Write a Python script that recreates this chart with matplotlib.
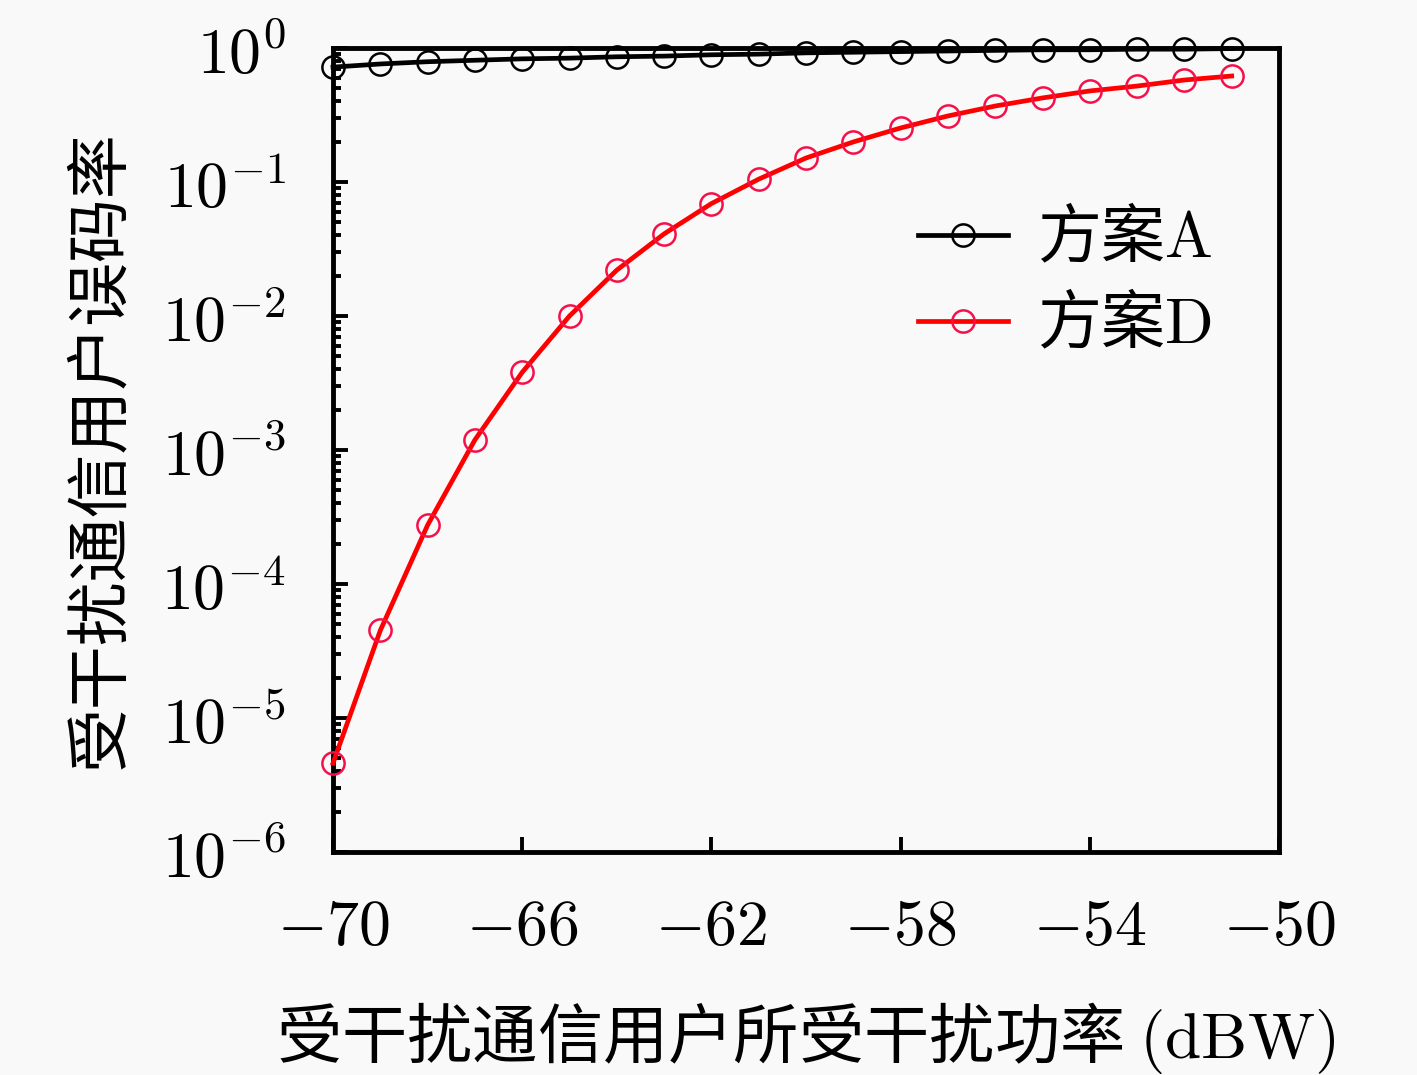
import matplotlib

matplotlib.use("Agg")
import matplotlib.pyplot as plt
import numpy as np
from matplotlib.ticker import FixedLocator, FuncFormatter, LogLocator, NullFormatter

# data
power_dbw = list(range(-70, -50))
ber_a = [0.72, 0.76, 0.79, 0.81, 0.83, 0.84, 0.86, 0.87, 0.89, 0.90,
         0.92, 0.93, 0.94, 0.95, 0.96, 0.97, 0.97, 0.98, 0.98, 0.99]
ber_d = [4.6e-6, 4.5e-5, 2.75e-4, 1.19e-3, 3.8e-3, 1.0e-2, 2.2e-2, 4.1e-2,
         6.9e-2, 0.105, 0.151, 0.199, 0.253, 0.311, 0.369, 0.424, 0.478,
         0.52, 0.577, 0.618]
x_ticks = [-70, -66, -62, -58, -54, -50]
labels = [r"方案$\mathrm{A}$", r"方案$\mathrm{D}$"]

plt.rcParams["font.family"] = ["Noto Sans CJK SC", "DejaVu Sans"]
plt.rcParams["mathtext.fontset"] = "cm"
BG = "#f9f9f9"

fig = plt.figure(figsize=(14.17, 10.75), dpi=100, facecolor=BG)
ax = fig.add_axes([333 / 1417, 1 - 852 / 1075, (1279 - 333) / 1417, (852 - 48) / 1075])
ax.set_facecolor(BG)

ax.plot(power_dbw, ber_a, color="black", lw=3.4, marker="o", ms=16,
        mfc="none", mec="black", mew=1.8, label=labels[0], clip_on=False, zorder=4)
ax.plot(power_dbw, ber_d, color="#ff0000", lw=3.4, marker="o", ms=16,
        mfc="none", mec="#f5104a", mew=1.8, label=labels[1], clip_on=False, zorder=3)

ax.set_yscale("log")
ax.set_ylim(1e-6, 1)
ax.set_xlim(-70, -50)
ax.xaxis.set_major_locator(FixedLocator(x_ticks))
ax.xaxis.set_major_formatter(FuncFormatter(lambda v, p: r"$%d$" % v))
ax.yaxis.set_major_locator(LogLocator(base=10, numticks=10))
ax.yaxis.set_minor_locator(LogLocator(base=10, subs=np.arange(2, 10), numticks=20))
ax.yaxis.set_minor_formatter(NullFormatter())
ax.yaxis.set_major_formatter(FuncFormatter(lambda v, p: r"$10^{%d}$" % round(np.log10(v))))

ax.tick_params(axis="both", which="major", direction="in", length=11, width=2.8,
               labelsize=46, top=False, right=False)
ax.tick_params(axis="y", which="minor", direction="in", length=6, width=2.8, right=False)
ax.tick_params(axis="x", pad=30)
ax.tick_params(axis="y", pad=34)
for s in ax.spines.values():
    s.set_linewidth(3.5)

ax.set_xlabel(r"受干扰通信用户所受干扰功率 $(\mathrm{dBW})$", fontsize=47, labelpad=29)
ax.set_ylabel("受干扰通信用户误码率", fontsize=46, labelpad=20)

ax.legend(loc="upper right", bbox_to_anchor=(0.99, 0.875), frameon=False,
          fontsize=46, handlelength=1.4, labelspacing=0.3, handletextpad=0.45)

fig.savefig("out.png", dpi=100, facecolor=BG)
